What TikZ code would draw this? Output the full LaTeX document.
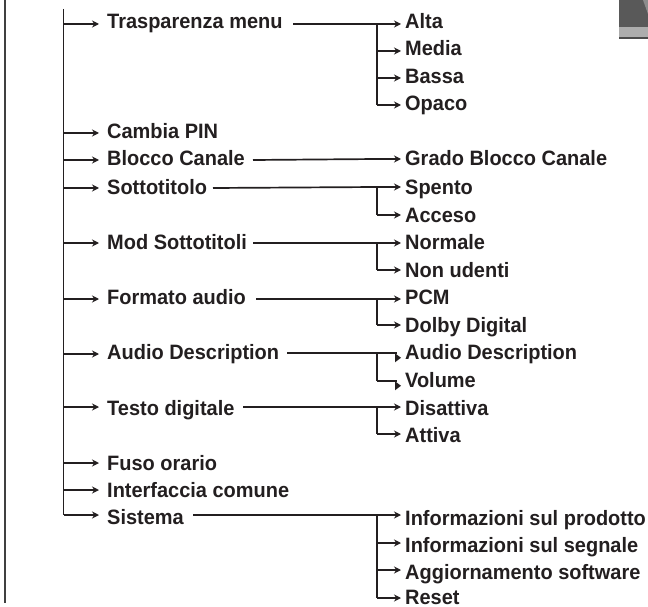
\documentclass[tikz,border=0pt]{standalone}
\usepackage{fontspec}
\setmainfont[FakeStretch=0.96]{Liberation Sans}
\usetikzlibrary{arrows.meta}
\definecolor{ink}{HTML}{231F20}
\tikzset{
  x=1pt,y=-1pt,
  lab/.style={anchor=base west,inner sep=0pt,text=ink,font=\fontsize{20.8}{24}\selectfont\bfseries},
  wire/.style={draw=ink,line width=1.7pt},
  conn/.style={wire,-{Stealth[length=7pt,width=7pt]}},
}
\newcommand{\lm}[4]{% name, baseline y, arrow y, text
  \node[lab] (#1) at (107,#2) {#4};
  \coordinate (#1-tip) at (99,#3);
  \coordinate (#1-bus) at (63.5,#3);
  \draw[conn] (#1-bus) -- (#1-tip);
}
\newcommand{\ls}[4]{%
  \node[lab] (#1) at (405,#2) {#4};
  \coordinate (#1-tip) at (401,#3);
  \coordinate (#1-bus) at (377,#3);
  \draw[conn] (#1-bus) -- (#1-tip);
}
\newcommand{\lk}[4]{% sub item whose arrowhead sits below its line
  \node[lab] (#1) at (405,#2) {#4};
  \coordinate (#1-bus) at (377,#3);
  \coordinate (#1-end) at (397,#3);
  \draw[wire] (#1-bus) -- (#1-end);
  \fill[ink] ([yshift=-0.3pt]#1-end) ++(-2,0) -- ++(0,9) -- ++(6,-4.5) -- cycle;
}
\begin{document}
\begin{tikzpicture}
\useasboundingbox (0,0) rectangle (648,607);
\fill[white] (0,0) rectangle (648,607);
% device picture fragment
\fill[black!65] (619,0) rectangle (648,27);
\fill[black!32] (619,27) rectangle (648,37);
\fill[black!70] (619,37) rectangle (648,39);
\fill[black!45] (643,0) -- (648,0) -- (648,14) -- cycle;
% outer rule
\coordinate (outerT) at (5,0);
\coordinate (outerB) at (5,603);
\draw[draw=black!75,line width=2pt] (outerT) -- (outerB);
% main items
\lm{tm}{29}{24}{Trasparenza menu}
\lm{cp}{139}{133}{Cambia PIN}
\lm{bc}{166}{160}{Blocco Canale}
\lm{so}{194}{188}{Sottotitolo}
\lm{ms}{249}{243}{Mod Sottotitoli}
\lm{fa}{304}{299}{Formato audio}
\lm{ad}{359}{354}{Audio Description}
\lm{td}{415}{407}{Testo digitale}
\lm{fo}{470}{463}{Fuso orario}
\lm{ic}{497}{490}{Interfaccia comune}
\lm{si}{524}{515}{Sistema}
\coordinate (railT) at (63.5,9);
\draw[wire] (railT) -- (si-bus);
% sub items
\ls{a1}{29}{24}{Alta}
\ls{a2}{56}{51}{Media}
\ls{a3}{84}{78}{Bassa}
\ls{a4}{111}{105}{Opaco}
\ls{b1}{166}{159}{Grado Blocco Canale}
\ls{c1}{194}{187}{Spento}
\ls{c2}{222}{215}{Acceso}
\ls{d1}{249}{243}{Normale}
\ls{d2}{277}{270}{Non udenti}
\ls{e1}{304}{299}{PCM}
\ls{e2}{332}{325}{Dolby Digital}
\lk{f1}{359}{353}{Audio Description}
\lk{f2}{387}{381}{Volume}
\ls{g1}{415}{407}{Disattiva}
\ls{g2}{442}{434}{Attiva}
\ls{h1}{525}{515}{Informazioni sul prodotto}
\ls{h2}{552}{543}{Informazioni sul segnale}
\ls{h3}{579}{570}{Aggiornamento software}
\ls{h4}{604}{598}{Reset}
% links from main items to sub-item buses
\coordinate (tm-out) at (293,24);  \draw[wire] (tm-out) -- (a1-bus);
\coordinate (bc-out) at (253,160); \draw[wire] (bc-out) -- (b1-bus);
\coordinate (so-out) at (213,188); \draw[wire] (so-out) -- (c1-bus);
\coordinate (ms-out) at (253,243); \draw[wire] (ms-out) -- (d1-bus);
\coordinate (fa-out) at (256,299); \draw[wire] (fa-out) -- (e1-bus);
\coordinate (ad-out) at (287,353); \draw[wire] (ad-out) -- (f1-bus);
\coordinate (td-out) at (243,407); \draw[wire] (td-out) -- (g1-bus);
\coordinate (si-out) at (193,515); \draw[wire] (si-out) -- (h1-bus);
% branch rails
\draw[wire] (a1-bus) -- (a4-bus);
\draw[wire] (c1-bus) -- (c2-bus);
\draw[wire] (d1-bus) -- (d2-bus);
\draw[wire] (e1-bus) -- (e2-bus);
\draw[wire] (f1-bus) -- (f2-bus);
\draw[wire] (g1-bus) -- (g2-bus);
\draw[wire] (h1-bus) -- (h4-bus);
\end{tikzpicture}
\end{document}
